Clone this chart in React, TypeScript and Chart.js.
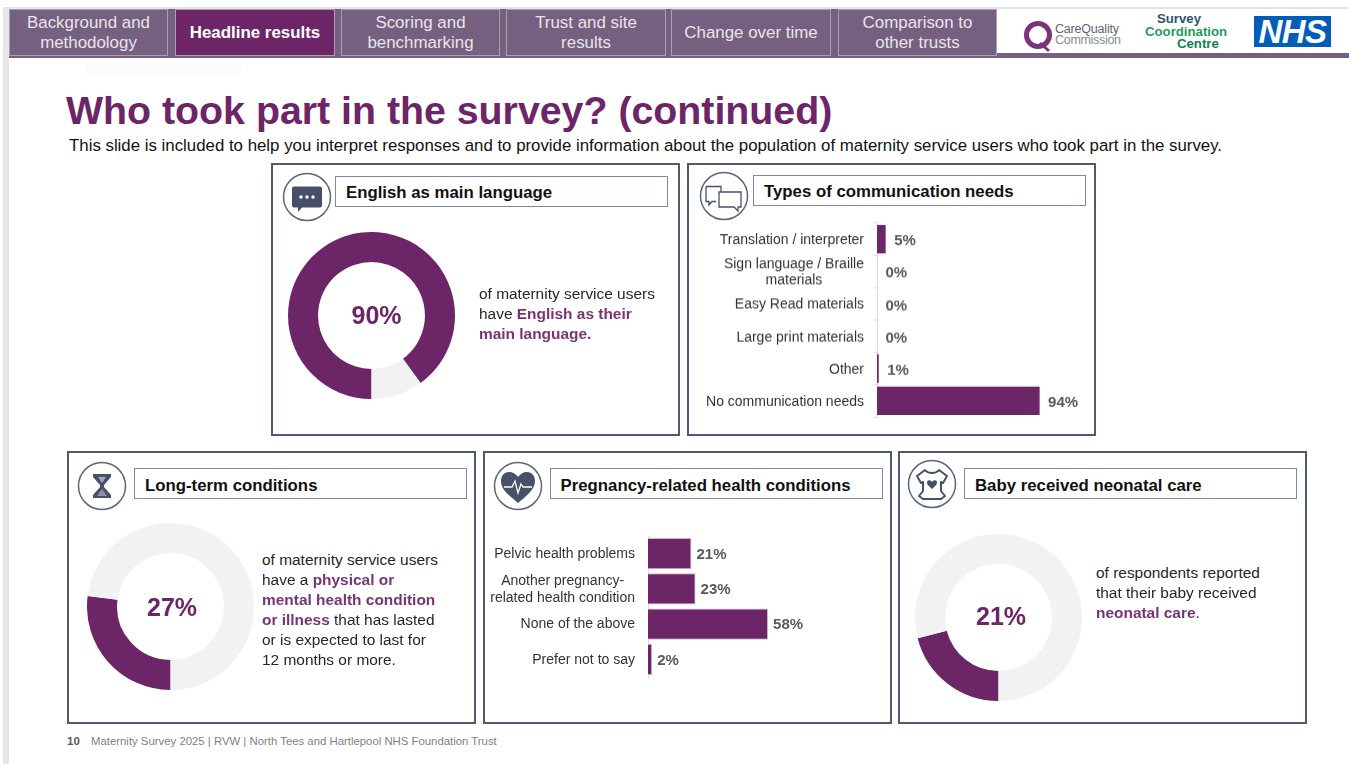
import React, { useEffect, useRef } from "react";
import { Chart, registerables } from "chart.js";
Chart.register(...registerables);

const PURPLE = "#6c2667";
const LIGHT = "#f2f2f2";
const SLATE = "#465169";
const FONT = '"Liberation Sans", Arial, sans-serif';

const navTabs = ["Background and\nmethodology", "Headline results", "Scoring and\nbenchmarking", "Trust and site\nresults", "Change over time", "Comparison to\nother trusts"];
const navLeft = [9, 175, 341, 506, 671, 838];
const navRight = [168, 335, 500, 666, 831, 997];

const englishValues = [90, 10];
const longTermValues = [27, 73];
const neonatalValues = [21, 79];

const commLabels = ["Translation / interpreter", "Sign language / Braille\nmaterials", "Easy Read materials", "Large print materials", "Other", "No communication needs"];
const commValues = [5, 0, 0, 0, 1, 94];

const pregLabels = ["Pelvic health problems", "Another pregnancy-\nrelated health condition", "None of the above", "Prefer not to say"];
const pregValues = [21, 23, 58, 2];

function Txt({ x, y, size, bold, color, children, style }: any) {
  return (
    <div style={{ position: "absolute", left: x, top: y, transform: "translateY(-50%)", fontSize: size, fontWeight: bold ? 700 : 400, color, whiteSpace: "nowrap", lineHeight: 1.1, ...style }}>
      {children}
    </div>
  );
}

function Donut({ cx, cy, r, values, label, lx, ly }: any) {
  const ref = useRef<HTMLCanvasElement>(null);
  useEffect(() => {
    const chart = new Chart(ref.current!, {
      type: "doughnut",
      data: { labels: ["Yes", "No"], datasets: [{ data: values, backgroundColor: [PURPLE, LIGHT], borderWidth: 0 }] },
      options: {
        responsive: false,
        animation: false,
        rotation: 180,
        cutout: "64%",
        layout: { padding: 0 },
        plugins: { legend: { display: false }, tooltip: { enabled: false } },
      },
    });
    return () => chart.destroy();
  }, []);
  const s = Math.round(r * 2);
  return (
    <>
      <canvas ref={ref} width={s} height={s} style={{ position: "absolute", left: cx - s / 2, top: cy - s / 2, width: s, height: s }} />
      <Txt x={lx} y={ly} size={25} bold color={PURPLE} style={{ transform: "translate(-50%,-50%)" }}>{label}</Txt>
    </>
  );
}

function HBar({ left, top, yWidth, plotW, height, labels, values, labelOffset, lineH, showAxis, tickDy, valueDy }: any) {
  const ref = useRef<HTMLCanvasElement>(null);
  const padR = 50;
  const pad = 3;
  const width = yWidth + plotW + padR;
  useEffect(() => {
    const drawText = {
      id: "drawText",
      afterDraw(c: any) {
        const ctx = c.ctx;
        const y = c.scales.y;
        const x = c.scales.x;
        ctx.save();
        ctx.textBaseline = "middle";
        labels.forEach((text: string, i: number) => {
          const py = y.getPixelForValue(i);
          const lines = text.split("\n");
          ctx.font = `14px ${FONT}`;
          ctx.fillStyle = "#333333";
          const mw = Math.max(...lines.map((l: string) => ctx.measureText(l).width));
          const right = x.left - 13;
          ctx.textAlign = "center";
          lines.forEach((l: string, k: number) => {
            ctx.fillText(l, right - mw / 2, py + tickDy + (k - (lines.length - 1) / 2) * lineH);
          });
          ctx.font = `bold 15px ${FONT}`;
          ctx.fillStyle = "#595959";
          ctx.textAlign = "left";
          ctx.fillText(values[i] + "%", x.getPixelForValue(values[i]) + labelOffset, py + valueDy);
        });
        ctx.restore();
      },
    };
    const chart = new Chart(ref.current!, {
      type: "bar",
      data: {
        labels: labels.map((l: string) => l.replace("\n", " ")),
        datasets: [{ data: values, backgroundColor: PURPLE, borderColor: "#cdb8cb", borderWidth: showAxis ? 0 : 1, barPercentage: 0.88, categoryPercentage: 1 }],
      },
      options: {
        indexAxis: "y",
        responsive: false,
        animation: false,
        layout: { padding: { top: pad, bottom: pad, right: padR, left: 0 } },
        scales: {
          x: { display: false, min: 0, max: 100 },
          y: {
            afterFit: (s: any) => { s.width = yWidth; },
            ticks: { display: false },
            border: { color: "#dcdcdc", width: 1 },
            grid: { drawOnChartArea: false, drawTicks: !!showAxis, tickLength: 3, color: "#dcdcdc", offset: true },
          },
        },
        plugins: { legend: { display: false }, tooltip: { enabled: false } },
      },
      plugins: [drawText],
    });
    return () => chart.destroy();
  }, []);
  return <canvas ref={ref} width={width} height={height + pad * 2} style={{ position: "absolute", left, top: top - pad, width, height: height + pad * 2 }} />;
}

function Panel({ l, t, r, b, tl, tt, title, titleX, titleY }: any) {
  return (
    <>
      <div style={{ position: "absolute", left: l, top: t, width: r - l, height: b - t, boxSizing: "border-box", border: `2px solid #4f5a70`, background: "#fff" }} />
      <div style={{ position: "absolute", left: tl, top: tt, width: 333, height: 31, boxSizing: "border-box", border: "1px solid #7f8aa0", background: "#fff" }} />
      <Txt x={titleX} y={titleY} size={16.8} bold color="#111">{title}</Txt>
    </>
  );
}

function Icon({ cx, cy, children }: any) {
  return (
    <svg width={52} height={52} viewBox="-26 -26 52 52" style={{ position: "absolute", left: cx - 26, top: cy - 26 }}>
      <circle r={23.5} fill="#fff" stroke="#5b667c" strokeWidth={1.5} />
      {children}
    </svg>
  );
}

function Para({ x, y, lh, lines }: any) {
  return (
    <>
      {lines.map((ln: any, i: number) => (
        <Txt key={i} x={x} y={y + i * lh} size={15.45} color="#262626">{ln}</Txt>
      ))}
    </>
  );
}
const Hi = ({ children }: any) => <span style={{ color: "#7a3474", fontWeight: 700 }}>{children}</span>;

export default function App() {
  useEffect(() => { document.body.style.margin = "0"; document.body.style.background = "#fff"; }, []);
  return (
    <div style={{ position: "absolute", left: 0, top: 0, width: 1349, height: 764, overflow: "hidden", background: "#fff", fontFamily: FONT }}>
      {/* page frame */}
      <div style={{ position: "absolute", left: 3, top: 7, width: 1346, height: 2, background: "#e3e3e3" }} />
      <div style={{ position: "absolute", left: 3, top: 7, width: 6, height: 757, background: "#e6e6e6" }} />
      <div style={{ position: "absolute", left: 85, top: 58, width: 156, height: 16, background: "#fbfbfb" }} />

      {/* nav */}
      <div style={{ position: "absolute", left: 9, top: 9, width: 988, height: 49, background: "#75607f" }} />
      <div style={{ position: "absolute", left: 997, top: 53, width: 352, height: 5, background: "#75607f" }} />
      {navTabs.map((t, i) => {
        const active = i === 1;
        return (
          <div key={t} style={{ position: "absolute", left: navLeft[i], top: 9, width: navRight[i] - navLeft[i], height: 47, boxSizing: "border-box", border: "1px solid #ab9eb3", background: active ? PURPLE : "#75607f", color: active ? "#fff" : "#e9e5ec", fontSize: 16.9, fontWeight: active ? 700 : 400, lineHeight: "20px", textAlign: "center", display: "flex", alignItems: "center", justifyContent: "center", whiteSpace: "pre-line" }}>
            {t}
          </div>
        );
      })}

      {/* logos */}
      <svg width={34} height={36} viewBox="0 0 34 36" style={{ position: "absolute", left: 1023, top: 18 }}>
        <circle cx={15} cy={17} r={11.5} fill="none" stroke="#7b3478" strokeWidth={5} />
        <path d="M17 25 L26 33" stroke="#7b3478" strokeWidth={3} />
      </svg>
      <Txt x={1055} y={29.5} size={12.5} color="#5c6670" style={{ letterSpacing: -0.2 }}>CareQuality</Txt>
      <Txt x={1055} y={40.5} size={12.5} color="#858d94" style={{ letterSpacing: -0.3 }}>Commission</Txt>
      <Txt x={1157} y={18.5} size={13.2} bold color="#2f5469">Survey</Txt>
      <Txt x={1145} y={31.5} size={13.2} bold color="#1f9c5c">Coordination</Txt>
      <Txt x={1177} y={44} size={13.2} bold color="#0f8050">Centre</Txt>
      <div style={{ position: "absolute", left: 1254, top: 16, width: 77, height: 31, background: "#005eb8", color: "#fff", fontSize: 33, fontWeight: 700, fontStyle: "italic", lineHeight: "31px", textAlign: "center", letterSpacing: -0.5 }}>NHS</div>

      {/* headings */}
      <Txt x={66} y={111} size={39.3} bold color={PURPLE}>Who took part in the survey? (continued)</Txt>
      <Txt x={69} y={145.5} size={16.83} color="#111">This slide is included to help you interpret responses and to provide information about the population of maternity service users who took part in the survey.</Txt>

      {/* panels */}
      <Panel l={271} t={163} r={680} b={436} tl={335} tt={176} title="English as main language" titleX={346} titleY={193} />
      <Panel l={687} t={163} r={1096} b={436} tl={753} tt={175} title="Types of communication needs" titleX={764} titleY={192} />
      <Panel l={67} t={451} r={476} b={724} tl={134} tt={468} title="Long-term conditions" titleX={145} titleY={486} />
      <Panel l={483} t={451} r={892} b={724} tl={549.5} tt={468} title="Pregnancy-related health conditions" titleX={560.5} titleY={486} />
      <Panel l={898} t={451} r={1307} b={724} tl={964} tt={468} title="Baby received neonatal care" titleX={975} titleY={486} />

      {/* icons */}
      <Icon cx={307.3} cy={197.3}>
        <path d="M-13 -10.5 H13 a2 2 0 0 1 2 2 V8.5 a2 2 0 0 1 -2 2 H-5 L-9 15 V10.5 H-13 a2 2 0 0 1 -2 -2 V-8.5 a2 2 0 0 1 2 -2 Z" fill={SLATE} />
        <circle cx={-6} cy={0} r={1.7} fill="#fff" /><circle cx={0} cy={0} r={1.7} fill="#fff" /><circle cx={6} cy={0} r={1.7} fill="#fff" />
      </Icon>
      <Icon cx={724} cy={196}>
        <path d="M-18 -9.5 H-3 V-4 M-8 5.5 H-12 L-15 9 V5.5 H-18 V-9.5" fill="#fff" stroke={SLATE} strokeWidth={1.3} />
        <path d="M-5 -4 H17 V11 H14 V15 L10 11 H-5 Z" fill="#fff" stroke={SLATE} strokeWidth={1.3} />
      </Icon>
      <Icon cx={101.7} cy={485.7}>
        <path d="M-9 -12 H9 V-9 L2 -1 V1 L9 9 V12 H-9 V9 L-2 1 V-1 L-9 -9 Z" fill={SLATE} />
        <path d="M-4 -9 H4 L0 -3 Z" fill="#fff" opacity={0.5} />
        <path d="M0 3 L5 10 H-5 Z" fill="#8b93a3" />
      </Icon>
      <Icon cx={517.7} cy={485.7}>
        <path d="M0 17 C-8 10 -17 4 -17 -5 C-17 -11 -13 -14 -9 -14 C-5 -14 -2 -12 0 -9 C2 -12 5 -14 9 -14 C13 -14 17 -11 17 -5 C17 4 8 10 0 17 Z" fill={SLATE} />
        <path d="M-14 1 H-6 L-3 -5 L0 7 L3 -2 L5 1 H14" fill="none" stroke="#fff" strokeWidth={1.3} />
      </Icon>
      <Icon cx={932.3} cy={484}>
        <path d="M-7 -14 C-4 -10 4 -10 7 -14 L15 -8 L11 -1 L9 -2 V7 L13 12 L9 15 H-9 L-13 12 L-9 7 V-2 L-11 -1 L-15 -8 Z" fill="#fff" stroke={SLATE} strokeWidth={2} strokeLinejoin="round" />
        <path d="M0 5 C-3 2 -5 1 -5 -1.5 C-5 -4 -1.5 -4.5 0 -2 C1.5 -4.5 5 -4 5 -1.5 C5 1 3 2 0 5 Z" fill={SLATE} />
      </Icon>

      {/* charts */}
      <Donut cx={371.7} cy={315} r={83.5} values={englishValues} label="90%" lx={376.5} ly={315.5} />
      <Donut cx={170} cy={606.7} r={83.5} values={longTermValues} label="27%" lx={172} ly={607.5} />
      <Donut cx={998} cy={617} r={83.5} values={neonatalValues} label="21%" lx={1001} ly={617} />

      <HBar left={700} top={223.3} yWidth={177} plotW={173} height={193.4} labels={commLabels} values={commValues} labelOffset={8.5} lineH={16} showAxis tickDy={1.2} valueDy={2} />
      <HBar left={482.5} top={535.5} yWidth={165} plotW={207} height={141.5} labels={pregLabels} values={pregValues} labelOffset={5} lineH={17} tickDy={0.5} valueDy={1} />

      {/* copy */}
      <Para x={479} y={292.5} lh={20.4} lines={["of maternity service users", <>have <Hi>English as their</Hi></>, <Hi>main language.</Hi>]} />
      <Para x={262} y={558.5} lh={20.1} lines={["of maternity service users", <>have a <Hi>physical or</Hi></>, <Hi>mental health condition</Hi>, <><Hi>or illness</Hi> that has lasted</>, "or is expected to last for", "12 months or more."]} />
      <Para x={1096} y={571.5} lh={20.4} lines={["of respondents reported", "that their baby received", <><Hi>neonatal care</Hi>.</>]} />

      {/* footer */}
      <Txt x={67} y={741} size={11.5} bold color="#595959">10</Txt>
      <Txt x={91} y={741} size={11.36} color="#7f7f7f">Maternity Survey 2025 | RVW | North Tees and Hartlepool NHS Foundation Trust</Txt>
    </div>
  );
}
